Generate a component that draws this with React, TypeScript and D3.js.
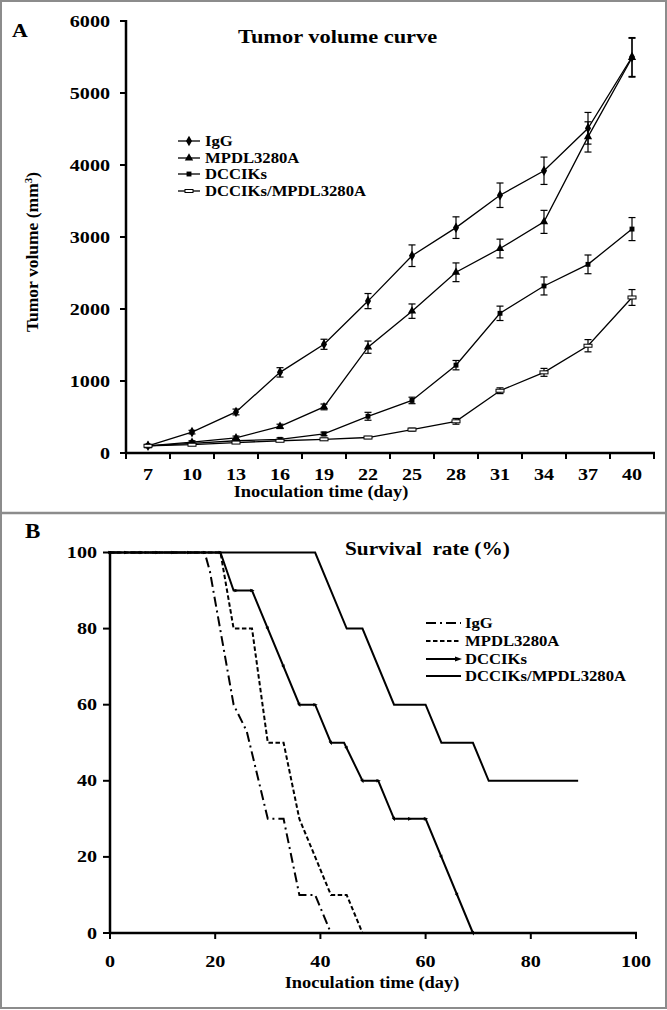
import React from "react";
import * as d3 from "d3";

// ---------- Panel A data ----------
const categories = ["7", "10", "13", "16", "19", "22", "25", "28", "31", "34", "37", "40"];
const iggVol = [100, 290, 570, 1120, 1510, 2110, 2740, 3130, 3580, 3920, 4510, 5500];
const iggErr = [20, 25, 40, 65, 70, 105, 150, 150, 170, 190, 220, 270];
const mpdlVol = [100, 150, 210, 370, 640, 1470, 1970, 2510, 2840, 3210, 4390, 5490];
const mpdlErr = [15, 20, 25, 30, 40, 85, 100, 130, 130, 160, 210, 270];
const dccVol = [100, 135, 170, 190, 265, 510, 730, 1220, 1940, 2320, 2620, 3110];
const dccErr = [10, 15, 15, 20, 25, 55, 45, 65, 100, 125, 130, 160];
const comboVol = [100, 115, 145, 170, 190, 215, 325, 440, 865, 1120, 1490, 2160];
const comboErr = [10, 10, 10, 10, 15, 15, 20, 40, 40, 55, 85, 110];
const volTicks = [0, 1000, 2000, 3000, 4000, 5000, 6000];
const seriesNames = ["IgG", "MPDL3280A", "DCCIKs", "DCCIKs/MPDL3280A"];

// ---------- Panel B data ----------
const iggDays = [0, 18, 19, 23.5, 26, 30, 33, 36, 39, 42];
const iggPct = [100, 100, 95, 60, 53, 30, 30, 10, 10, 0];
const mpdlDays = [0, 21, 23.5, 27, 30, 33, 36, 42, 45, 48];
const mpdlPct = [100, 100, 80, 80, 50, 50, 30, 10, 10, 0];
const dccDays = [0, 21, 23.5, 27, 36, 39, 42, 44.5, 48, 51, 54, 60, 69];
const dccPct = [100, 100, 90, 90, 60, 60, 50, 50, 40, 40, 30, 30, 0];
const comboDays = [0, 39, 45, 48, 54, 60, 63, 69, 72, 89];
const comboPct = [100, 100, 80, 80, 60, 60, 50, 50, 40, 40];
const dccMarkerDays = [0, 3, 6, 9, 12, 15, 18, 21, 24, 27, 30, 33, 36, 39, 42, 45, 48, 51, 54, 57, 60, 63, 66, 69];
const dayTicks = [0, 20, 40, 60, 80, 100];
const pctTicks = [0, 20, 40, 60, 80, 100];

const FONT = "'Liberation Serif','Times New Roman',serif";

function T({ x, y, size, anchor = "start", children, sx = 1.15, rotate = 0 }: any) {
  return (
    <text
      transform={`translate(${x},${y}) rotate(${rotate}) scale(${sx},1)`}
      fontSize={size}
      textAnchor={anchor}
      fontWeight="bold"
      fontFamily={FONT}
      fill="#000"
      style={{ whiteSpace: "pre" }}
    >
      {children}
    </text>
  );
}

function PanelA() {
  const x = d3.scaleBand<string>().domain(categories).range([126, 654]);
  const y = d3.scaleLinear().domain([0, 6000]).range([453, 21]);
  const cx = (c: string) => (x(c) as number) + x.bandwidth() / 2;
  const line = d3
    .line<number>()
    .x((_, i) => cx(categories[i]))
    .y((v) => y(v));
  const series = [
    { vals: iggVol, errs: iggErr, sym: d3.symbolDiamond, size: 32 },
    { vals: mpdlVol, errs: mpdlErr, sym: d3.symbolTriangle, size: 30 },
    { vals: dccVol, errs: dccErr, sym: d3.symbolSquare, size: 24 },
    { vals: comboVol, errs: comboErr, sym: null, size: 0 },
  ];
  const marker = (s: any, px: number, py: number, key: any) =>
    s.sym ? (
      <path key={key} d={d3.symbol().type(s.sym).size(s.size)() as string} transform={`translate(${px},${py})`} fill="#000" />
    ) : (
      <rect key={key} x={px - 4} y={py - 1.5} width={8} height={3} fill="#fff" stroke="#000" strokeWidth={1} />
    );
  const bounds = [...categories.map((c) => x(c) as number), 654];
  const legendY = [141, 158, 174, 191];
  return (
    <g>
      {series.map((s, si) => (
        <g key={si}>
          <path d={line(s.vals) as string} fill="none" stroke="#000" strokeWidth={1.3} />
          {s.vals.map((v, i) => {
            const px = cx(categories[i]);
            const y1 = y(v + s.errs[i]);
            const y2 = y(v - s.errs[i]);
            return (
              <g key={i} stroke="#000" strokeWidth={1.2}>
                <line x1={px} x2={px} y1={y1} y2={y2} />
                <line x1={px - 3.5} x2={px + 3.5} y1={y1} y2={y1} />
                <line x1={px - 3.5} x2={px + 3.5} y1={y2} y2={y2} />
              </g>
            );
          })}
          {s.vals.map((v, i) => marker(s, cx(categories[i]), y(v), "m" + i))}
        </g>
      ))}
      {/* axes */}
      <line x1={126} x2={126} y1={20} y2={454} stroke="#000" strokeWidth={2.5} />
      <line x1={125} x2={655} y1={453} y2={453} stroke="#000" strokeWidth={2.5} />
      {volTicks.map((t) => (
        <g key={t}>
          <line x1={120} x2={126} y1={y(t)} y2={y(t)} stroke="#000" strokeWidth={2} />
          <T x={110} y={y(t) + 6} size={17.5} anchor="end">{String(t)}</T>
        </g>
      ))}
      {bounds.map((b, i) => (
        <line key={i} x1={b} x2={b} y1={453} y2={459} stroke="#000" strokeWidth={2} />
      ))}
      {categories.map((c) => (
        <T key={c} x={cx(c)} y={480} size={17.5} anchor="middle">{c}</T>
      ))}
      <T x={321} y={497} size={16} anchor="middle">Inoculation time (day)</T>
      <text transform="translate(38,252) rotate(-90)" fontSize={17.5} textAnchor="middle" fontWeight="bold" fontFamily={FONT}>
        Tumor volume (mm<tspan dy={-6} fontSize={11}>3</tspan><tspan dy={6}>)</tspan>
      </text>
      <T x={12} y={37} size={19}>A</T>
      <T x={238} y={43} size={19.5}>Tumor volume curve</T>
      {/* legend */}
      {series.map((s, i) => (
        <g key={i}>
          <line x1={178} x2={200} y1={legendY[i]} y2={legendY[i]} stroke="#000" strokeWidth={1.3} />
          {marker(s, 189, legendY[i], "lg" + i)}
          <T x={205} y={legendY[i] + 5} size={14.5}>{seriesNames[i]}</T>
        </g>
      ))}
    </g>
  );
}

function PanelB() {
  const x = d3.scaleLinear().domain([0, 100]).range([110, 636]);
  const y = d3.scaleLinear().domain([0, 100]).range([933, 552.5]);
  const mk = (days: number[], pct: number[]) =>
    d3.line<number>().x((d) => x(d)).y((_, i) => y(pct[i]))(days) as string;
  const dash = ["10,4,2,4", "4.5,2.5", null, null];
  const paths = [
    mk(iggDays, iggPct),
    mk(mpdlDays, mpdlPct),
    mk(dccDays, dccPct),
    mk(comboDays, comboPct),
  ];
  const arrow = (px: number, py: number, ang: number, key: any, big = false) => (
    <path
      key={key}
      d={big ? "M4,0L-3,-2.6L-3,2.6Z" : "M2.6,0L-1.8,-1.8L-1.8,1.8Z"}
      transform={`translate(${px},${py}) rotate(${ang})`}
      fill="#000"
    />
  );
  const dccMarkers = dccMarkerDays.map((d, k) => {
    let i = 0;
    while (i < dccDays.length - 2 && d > dccDays[i + 1]) i++;
    const t = (d - dccDays[i]) / (dccDays[i + 1] - dccDays[i]);
    const p = dccPct[i] + t * (dccPct[i + 1] - dccPct[i]);
    const dx = x(dccDays[i + 1]) - x(dccDays[i]);
    const dy = y(dccPct[i + 1]) - y(dccPct[i]);
    const ang = (Math.atan2(dy, dx) * 180) / Math.PI;
    return arrow(x(d), y(p), ang, k);
  });
  const legendY = [623, 641, 659, 676];
  return (
    <g>
      {paths.map((p, i) => (
        <path key={i} d={p} fill="none" stroke="#000" strokeWidth={2} strokeDasharray={dash[i] ?? undefined} />
      ))}
      {dccMarkers}
      <line x1={110} x2={110} y1={551} y2={934} stroke="#000" strokeWidth={2.5} />
      <line x1={109} x2={637} y1={933} y2={933} stroke="#000" strokeWidth={2.5} />
      {pctTicks.map((t) => (
        <g key={t}>
          <line x1={103} x2={110} y1={y(t)} y2={y(t)} stroke="#000" strokeWidth={2} />
          <T x={97} y={y(t) + 5.5} size={17.5} anchor="end">{String(t)}</T>
        </g>
      ))}
      {dayTicks.map((t) => (
        <g key={t}>
          <line x1={x(t)} x2={x(t)} y1={933} y2={939} stroke="#000" strokeWidth={2} />
          <T x={x(t)} y={967} size={17.5} anchor="middle">{String(t)}</T>
        </g>
      ))}
      <T x={372} y={988} size={16} anchor="middle">Inoculation time (day)</T>
      <T x={25} y={538} size={20}>B</T>
      <T x={345} y={555} size={18.5}>{"Survival\u00A0 rate (%)"}</T>
      {seriesNames.map((n, i) => (
        <g key={i}>
          <line x1={426} x2={i === 2 ? 457 : 461} y1={legendY[i]} y2={legendY[i]} stroke="#000" strokeWidth={2} strokeDasharray={dash[i] ?? undefined} />
          {i === 2 ? arrow(458, legendY[i], 0, "la", true) : null}
          <T x={465} y={legendY[i] + 5} size={14.5}>{n}</T>
        </g>
      ))}
    </g>
  );
}

export default function App() {
  return (
    <div style={{ position: "absolute", left: 0, top: 0 }}>
      <svg width={667} height={1010} viewBox="0 0 667 1010" style={{ display: "block", background: "#fff" }}>
        <rect x={0} y={0} width={667} height={1010} fill="#fff" />
        <PanelA />
        <PanelB />
        <line x1={0} x2={667} y1={513} y2={513} stroke="#8c8c8c" strokeWidth={2.5} />
        <rect x={1} y={1} width={665} height={1007} fill="none" stroke="#8c8c8c" strokeWidth={2} />
      </svg>
    </div>
  );
}
